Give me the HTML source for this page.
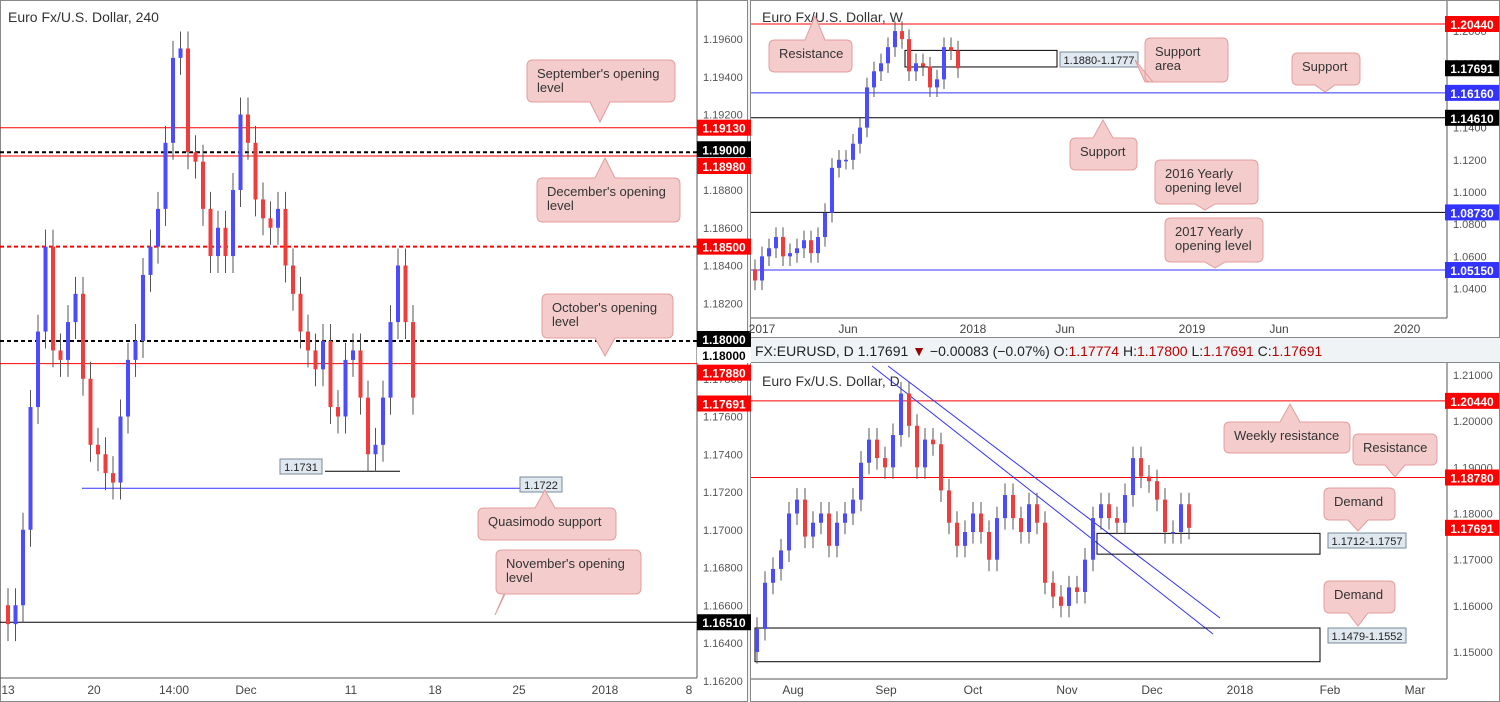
<!DOCTYPE html>
<html><head><meta charset="utf-8"><style>
body{margin:0;background:#f0f3f6;font-family:"Liberation Sans",sans-serif}
svg{display:block}
text{font-family:"Liberation Sans",sans-serif}
</style></head><body>
<svg id="c" width="1500" height="702" viewBox="0 0 1500 702" xmlns="http://www.w3.org/2000/svg">
<rect x="0" y="0" width="1500" height="702" fill="#f0f3f6"/>
<rect x="0.5" y="0.5" width="747" height="701" fill="#fff" stroke="#888"/>
<rect x="750.5" y="0.5" width="749" height="337" fill="#fff" stroke="#888"/>
<rect x="750.5" y="362.5" width="749" height="339" fill="#fff" stroke="#888"/>
<text x="755" y="356" font-size="14" fill="#222">FX:EURUSD, D 1.17691 <tspan fill="#9b0000">▼</tspan> −0.00083 (−0.07%) O:<tspan fill="#b00">1.17774</tspan> H:<tspan fill="#b00">1.17800</tspan> L:<tspan fill="#b00">1.17691</tspan> C:<tspan fill="#b00">1.17691</tspan></text>
<g id="g"></g>
</svg>
<script>
// ---- H4 panel data ----
const h4Closes=[1.1650,1.1660,1.1700,1.1765,1.1805,1.1850,1.1795,1.1790,1.1810,1.1825,1.1780,1.1745,1.1740,1.1730,1.1725,1.1760,1.1790,1.1800,1.1835,1.1850,1.1870,1.1905,1.1950,1.1955,1.1900,1.1895,1.1870,1.1845,1.1860,1.1845,1.1880,1.1920,1.1905,1.1875,1.1865,1.1860,1.1870,1.1840,1.1825,1.1805,1.1795,1.1785,1.1800,1.1765,1.1760,1.1790,1.1795,1.1770,1.1740,1.1745,1.1770,1.1810,1.1840,1.1810,1.1770];
const h4Open0=1.1660;
const h4Ticks=[1.196,1.194,1.192,1.190,1.188,1.186,1.184,1.182,1.180,1.178,1.176,1.174,1.172,1.170,1.168,1.166,1.164,1.162];
const h4DateLabels=["13","20","14:00","Dec","11","18","25","2018","8"];
const h4DatePos=[8,94,174,246,351,435,519,605,689];
// ---- Weekly panel data ----
const wkCloses=[1.0450,1.0600,1.0650,1.0720,1.0600,1.0620,1.0650,1.0700,1.0620,1.0720,1.0870,1.1150,1.1200,1.1200,1.1300,1.1400,1.1650,1.1750,1.1800,1.1900,1.2000,1.1950,1.1750,1.1800,1.1780,1.1650,1.1700,1.1900,1.1880,1.1769];
const wkOpen0=1.0520;
const wkTicks=[1.20,1.18,1.16,1.14,1.12,1.10,1.08,1.06,1.04];
const wkDateLabels=["2017","Jun","2018","Jun","2019","Jun","2020"];
const wkDatePos=[762,848,973,1065,1192,1279,1407];
// ---- Daily panel data ----
const dCloses=[1.1550,1.1650,1.1680,1.1720,1.1800,1.1830,1.1750,1.1780,1.1800,1.1730,1.1780,1.1800,1.1830,1.1910,1.1960,1.1920,1.1900,1.1970,1.2060,1.1990,1.1900,1.1960,1.1950,1.1850,1.1780,1.1730,1.1760,1.1800,1.1760,1.1700,1.1790,1.1840,1.1790,1.1760,1.1820,1.1780,1.1650,1.1620,1.1600,1.1640,1.1630,1.1700,1.1790,1.1820,1.1790,1.1780,1.1840,1.1920,1.1880,1.1870,1.1830,1.1760,1.1760,1.1820,1.1769];
const dOpen0=1.1500;
const dTicks=[1.21,1.20,1.19,1.18,1.17,1.16,1.15];
const dDateLabels=["Aug","Sep","Oct","Nov","Dec","2018","Feb","Mar"];
const dDatePos=[793,886,973,1067,1152,1240,1330,1415];

const NS="http://www.w3.org/2000/svg";
const G=document.getElementById('g');
function mk(tag,attrs,txt){const e=document.createElementNS(NS,tag);for(const k in attrs)e.setAttribute(k,attrs[k]);if(txt!==undefined)e.textContent=txt;G.appendChild(e);return e;}

// scales
const yH=p=>39+(1.196-p)/0.002*37.75;
const xH=i=>8+i*7.5;
const yW=p=>24+(1.2044-p)*1609;
const xW=i=>755+i*7;
const yD=p=>375+(1.21-p)*4617;
const xD=i=>757+i*8;

function candles(closes,open0,xf,yf,w,wick,name){
  let o=open0;
  closes.forEach((c,i)=>{
    const up=c>=o, x=xf(i);
    const hi=Math.max(o,c)+wick, lo=Math.min(o,c)-wick;
    const l=mk('line',{x1:x,x2:x,y1:yf(hi),y2:yf(lo),stroke:'#555','stroke-width':1});
    
    
    const t=Math.min(yf(o),yf(c)),h=Math.max(1.5,Math.abs(yf(o)-yf(c)));
    const r=mk('rect',{x:x-w/2,y:t,width:w,height:h,fill:up?'#4b4bff':'#f03c3c'});
    
    
    o=c;
  });
}
function hline(x1,x2,y,col,dash,name,w){
  const l=mk('line',{x1:x1,x2:x2,y1:y,y2:y,stroke:col,'stroke-width':w||1,'stroke-dasharray':dash||'none'});
  
  
}
function axLabel(x,y,txt,bg,fg,name){
  const r=mk('rect',{x:x,y:y-8,width:54,height:16,fill:bg});
  
  
  const t=mk('text',{x:x+27,y:y+5,'font-size':12,'font-weight':'bold','text-anchor':'middle',fill:fg},txt);
  
  
}
function callout(x,y,w,h,lines,px,py,name){
  const p=mk('path',{d:`M${x+6},${y} h${w-12} q6,0 6,6 v${h-12} q0,6 -6,6 H${Math.min(px+10,x+w-8)} L${px},${py} L${Math.max(px-10,x+8)},${y+h} H${x+6} q-6,0 -6,-6 v${-(h-12)} q0,-6 6,-6z`,fill:'#f4cccc',stroke:'#e49c9c'});
  if(py<y){p.setAttribute('d',`M${x+6},${y} H${Math.max(px-10,x+8)} L${px},${py} L${Math.min(px+10,x+w-8)},${y} H${x+w-6} q6,0 6,6 v${h-12} q0,6 -6,6 H${x+6} q-6,0 -6,-6 v${-(h-12)} q0,-6 6,-6z`);}
  
  
  lines.forEach((s,k)=>{
    const t=mk('text',{x:x+10,y:y+18+k*14,'font-size':13,fill:'#333'},s);
    
    
  });
}
function boxLabel(x,y,w,txt,name){
  const r=mk('rect',{x:x,y:y,width:w,height:15,fill:'#dfe8ef',stroke:'#7a8a99'});
  
  
  const t=mk('text',{x:x+w/2,y:y+12,'font-size':11,'text-anchor':'middle',fill:'#222'},txt);
  
  
}

// ===== H4 panel =====
hline(0,697,678,'#555',null,'h4-x-axis-line');
const va=mk('line',{x1:697,x2:697,y1:0,y2:678,stroke:'#555'});


h4Ticks.forEach(p=>{const t=mk('text',{x:703,y:yH(p)+4,'font-size':11,fill:'#555'},p.toFixed(5));
 
 });
h4DateLabels.forEach((s,i)=>{const t=mk('text',{x:h4DatePos[i],y:694,'font-size':12,fill:'#444','text-anchor':'middle'},s);
 
 });
const tt=mk('text',{x:8,y:22,'font-size':14,fill:'#333'},'Euro Fx/U.S. Dollar, 240');


hline(0,697,yH(1.1913),'#f00',null,'sept-open-line');
hline(0,697,yH(1.1900),'#000','4,3','level-11900',2);
hline(0,697,yH(1.1898),'#f00',null,'dec-open-line');
hline(0,697,yH(1.1850),'#f00','4,3','level-11850',2);
hline(0,697,yH(1.1800),'#000','4,3','level-11800',2);
hline(0,697,yH(1.1788),'#f00',null,'oct-open-line');
hline(82,520,yH(1.1722),'#33f',null,'quasimodo-line');
hline(325,400,yH(1.1731),'#000',null,'level-11731');
hline(0,697,yH(1.1651),'#000',null,'nov-open-line');
candles(h4Closes,h4Open0,xH,yH,4,0.0009,'h4');
axLabel(697,yH(1.1913),'1.19130','#f00','#fff','h4-label-11913');
axLabel(697,yH(1.19)-3,'1.19000','#000','#fff','h4-label-11900');
axLabel(697,yH(1.1898)+10,'1.18980','#f00','#fff','h4-label-11898');
axLabel(697,yH(1.185),'1.18500','#f00','#fff','h4-label-11850');
axLabel(697,yH(1.18)-2,'1.18000','#000','#fff','h4-label-11800');
axLabel(697,yH(1.18)+14,'1.18000','#fff','#000','h4-label-11800b');
axLabel(697,yH(1.1788)+9,'1.17880','#f00','#fff','h4-label-11788');
axLabel(697,yH(1.1769)+4,'1.17691','#f00','#fff','h4-label-current');
axLabel(697,yH(1.1651),'1.16510','#000','#fff','h4-label-11651');
boxLabel(280,459,42,'1.1731','h4-box-11731');
boxLabel(520,477,42,'1.1722','h4-box-11722');
callout(527,60,148,42,["September's opening","level"],600,122,'sept-callout');
callout(537,178,143,44,["December's opening","level"],605,158,'dec-callout');
callout(542,294,131,44,["October's opening","level"],605,356,'oct-callout');
callout(478,508,138,32,["Quasimodo support"],545,490,'quasimodo-callout');
callout(496,550,145,44,["November's opening","level"],495,615,'nov-callout');

// ===== Weekly panel =====
hline(751,1447,318,'#555',null,'wk-x-axis-line');
const va2=mk('line',{x1:1447,x2:1447,y1:1,y2:318,stroke:'#555'});


wkTicks.forEach(p=>{const t=mk('text',{x:1453,y:yW(p)+4,'font-size':11,fill:'#555'},p.toFixed(4));
 
 });
wkDateLabels.forEach((s,i)=>{const t=mk('text',{x:wkDatePos[i],y:333,'font-size':12,fill:'#444','text-anchor':'middle'},s);
 
 });
const tw=mk('text',{x:762,y:22,'font-size':14,fill:'#333'},'Euro Fx/U.S. Dollar, W');


hline(751,1447,yW(1.2044),'#f00',null,'wk-resistance-line');
hline(751,1447,yW(1.1616),'#33f',null,'wk-support-11616');
hline(751,1447,yW(1.1461),'#000',null,'wk-support-11461');
hline(751,1447,yW(1.0873),'#000',null,'wk-2016-open-line');
hline(751,1447,yW(1.0515),'#33f',null,'wk-2017-open-line');
const wr=mk('rect',{x:905,y:yW(1.188),width:152,height:yW(1.1777)-yW(1.188),fill:'none',stroke:'#000'});


candles(wkCloses,wkOpen0,xW,yW,4,0.006,'wk');
boxLabel(1060,52,78,'1.1880-1.1777','wk-support-area-label');
axLabel(1445,yW(1.2044),'1.20440','#f00','#fff','wk-label-12044');
axLabel(1445,yW(1.1769),'1.17691','#000','#fff','wk-label-current');
axLabel(1445,yW(1.1616),'1.16160','#33f','#fff','wk-label-11616');
axLabel(1445,yW(1.1461),'1.14610','#000','#fff','wk-label-11461');
axLabel(1445,yW(1.0873),'1.08730','#33f','#fff','wk-label-10873');
axLabel(1445,yW(1.0515),'1.05150','#33f','#fff','wk-label-10515');
callout(769,40,83,32,["Resistance"],815,16,'wk-resistance-callout');
callout(1145,38,83,44,["Support","area"],1135,60,'wk-support-area-callout');
callout(1292,53,68,32,["Support"],1325,92,'wk-support-callout');
callout(1070,138,67,32,["Support"],1103,120,'wk-support2-callout');
callout(1155,160,103,44,["2016 Yearly","opening level"],1205,210,'wk-2016-callout');
callout(1165,218,98,44,["2017 Yearly","opening level"],1215,268,'wk-2017-callout');

// ===== Daily panel =====
hline(751,1447,679,'#555',null,'d-x-axis-line');
const va3=mk('line',{x1:1447,x2:1447,y1:363,y2:679,stroke:'#555'});


dTicks.forEach(p=>{const t=mk('text',{x:1453,y:yD(p)+4,'font-size':11,fill:'#555'},p.toFixed(5));
 
 });
dDateLabels.forEach((s,i)=>{const t=mk('text',{x:dDatePos[i],y:694,'font-size':12,fill:'#444','text-anchor':'middle'},s);
 
 });
const td=mk('text',{x:762,y:386,'font-size':14,fill:'#333'},'Euro Fx/U.S. Dollar, D');


hline(751,1447,yD(1.2044),'#f00',null,'d-weekly-resistance-line');
hline(751,1447,yD(1.1878),'#f00',null,'d-resistance-line');
const tl1=mk('line',{x1:872,y1:366,x2:1213,y2:634,stroke:'#33f'});


const tl2=mk('line',{x1:888,y1:366,x2:1220,y2:618,stroke:'#33f'});


const dr1=mk('rect',{x:1097,y:yD(1.1757),width:223,height:yD(1.1712)-yD(1.1757),fill:'none',stroke:'#000'});


const dr2=mk('rect',{x:755,y:yD(1.1552),width:565,height:yD(1.1479)-yD(1.1552),fill:'none',stroke:'#000'});


candles(dCloses,dOpen0,xD,yD,4,0.0025,'d');
boxLabel(1328,533,78,'1.1712-1.1757','d-demand-label-1');
boxLabel(1328,628,78,'1.1479-1.1552','d-demand-label-2');
axLabel(1445,yD(1.2044),'1.20440','#f00','#fff','d-label-12044');
axLabel(1445,yD(1.1878),'1.18780','#f00','#fff','d-label-11878');
axLabel(1445,yD(1.1769),'1.17691','#f00','#fff','d-label-current');
callout(1224,422,126,31,["Weekly resistance"],1290,404,'d-weekly-resistance-callout');
callout(1353,434,84,31,["Resistance"],1395,477,'d-resistance-callout');
callout(1324,488,71,32,["Demand"],1358,531,'d-demand-callout-1');
callout(1324,581,71,32,["Demand"],1358,626,'d-demand-callout-2');
</script>
</body></html>
